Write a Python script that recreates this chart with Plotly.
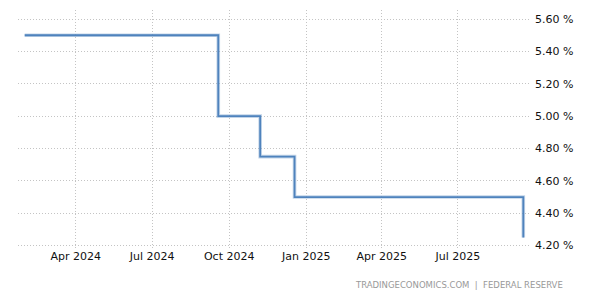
import plotly.graph_objects as go

dates = ["2024-01-31", "2024-03-20", "2024-05-01", "2024-06-12", "2024-07-31",
         "2024-09-18", "2024-11-07", "2024-12-18", "2025-01-29", "2025-03-19",
         "2025-05-07", "2025-06-18", "2025-07-30", "2025-09-17"]
rates = [5.50, 5.50, 5.50, 5.50, 5.50, 5.00, 4.75, 4.50, 4.50, 4.50, 4.50, 4.50, 4.50, 4.25]

tick_dates = ["2024-04-01", "2024-07-01", "2024-10-01", "2025-01-01", "2025-04-01", "2025-07-01"]
tick_labels = ["Apr 2024", "Jul 2024", "Oct 2024", "Jan 2025", "Apr 2025", "Jul 2025"]
y_ticks = [4.2, 4.4, 4.6, 4.8, 5.0, 5.2, 5.4, 5.6]
y_labels = ["%.2f %%" % v for v in y_ticks]

fig = go.Figure()
fig.add_trace(go.Scatter(x=dates, y=rates, mode="lines", line_shape="hv",
                         line=dict(color="rgba(120,160,205,0.45)", width=3.6),
                         hoverinfo="skip", showlegend=False))
fig.add_trace(go.Scatter(x=dates, y=rates, mode="lines", line_shape="hv",
                         line=dict(color="#4f83bd", width=1.8), showlegend=False))

grid = dict(showgrid=True, gridcolor="#c4c4c4", griddash="1px,2px", gridwidth=1,
            zeroline=False, showline=False, ticks="")

fig.update_layout(
    width=600, height=300,
    margin=dict(l=18, r=70, t=10, b=52),
    paper_bgcolor="white", plot_bgcolor="white",
    font=dict(family="DejaVu Sans", size=11, color="#111111"),
    xaxis=dict(range=["2024-01-23", "2025-09-25"], tickvals=tick_dates, ticktext=tick_labels,
               tickfont=dict(size=11, color="#111111"), **grid),
    yaxis=dict(side="right", range=[4.185, 5.656], tickvals=y_ticks, ticktext=y_labels,
               ticklabelstandoff=4, tickfont=dict(size=11, color="#111111"), **grid),
    annotations=[dict(text="TRADINGECONOMICS.COM  |  FEDERAL RESERVE", xref="paper", yref="paper",
                      x=(565 - 18) / 512, y=-(285 - 248) / 238, xanchor="right", yanchor="middle",
                      showarrow=False, font=dict(size=8.5, color="#999999", family="DejaVu Sans"))],
)
fig.write_html("out.html")
